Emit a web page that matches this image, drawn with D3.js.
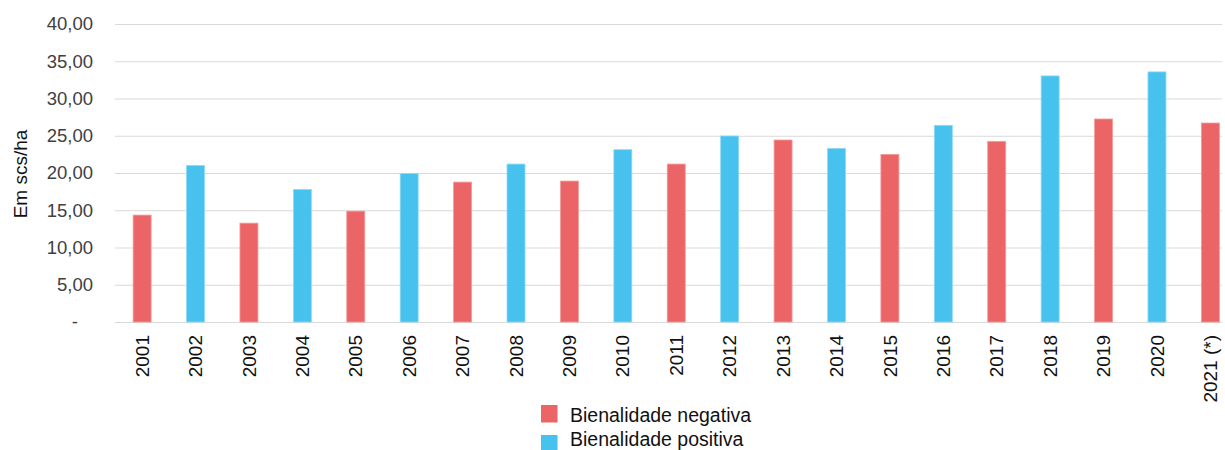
<!DOCTYPE html>
<html lang="pt">
<head>
<meta charset="UTF-8">
<title>Produtividade</title>
<script src="https://d3js.org/d3.v7.min.js"></script>
<style>
  body { margin: 0; background: #fff; }
  text { font-family: "Liberation Sans", Arial, sans-serif; }
</style>
</head>
<body>
<script>
// anos e produtividade (scs/ha)
var years = ["2001","2002","2003","2004","2005","2006","2007","2008","2009","2010",
             "2011","2012","2013","2014","2015","2016","2017","2018","2019","2020","2021 (*)"];
var values = [14.35, 21.02, 13.27, 17.79, 14.88, 19.94, 18.78, 21.20, 18.92, 23.13,
              21.20, 24.97, 24.43, 23.30, 22.50, 26.40, 24.25, 33.03, 27.25, 33.57, 26.71];
// tipo de bienalidade: "neg" ou "pos"
var kinds = ["neg","pos","neg","pos","neg","pos","neg","pos","neg","pos",
             "neg","pos","neg","pos","neg","pos","neg","pos","neg","pos","neg"];
var yTicks = [0, 5, 10, 15, 20, 25, 30, 35, 40];
var legendLabels = ["Bienalidade negativa", "Bienalidade positiva"];

var colors = { neg: "#ec6566", pos: "#47c1ee" };
var strokes = { neg: "#f59a9a", pos: "#8fdaf6" };

var width = 1225, height = 450;
var margin = { top: 24, right: 3, bottom: 128, left: 115 };
var innerW = width - margin.left - margin.right,
    innerH = height - margin.top - margin.bottom;
// a area do grafico continua alem da borda direita da imagem (recortada)
var bandW = 1122;

var svg = d3.select("body").append("svg")
    .attr("width", width).attr("height", height);

var x = d3.scaleBand().domain(years).range([0.5, bandW]).paddingInner(0.663).paddingOuter(0.33);
var y = d3.scaleLinear().domain([0, 40]).range([innerH, 0]);

var g = svg.append("g").attr("transform", "translate(" + margin.left + "," + margin.top + ")");

// linhas de grade
g.selectAll(".grid").data(yTicks).enter().append("line")
    .attr("x1", 0).attr("x2", innerW)
    .attr("y1", d => y(d) + 0.5).attr("y2", d => y(d) + 0.5)
    .attr("stroke", "#d9d9d9").attr("stroke-width", 1.2);

// eixo y
var fmt = d3.format(".2f");
var yAxis = d3.axisLeft(y).tickValues(yTicks).tickSize(0).tickPadding(22)
    .tickFormat(d => d === 0 ? "-" : fmt(d).replace(".", ","));
var ya = g.append("g").call(yAxis);
ya.select(".domain").remove();
ya.selectAll("text").attr("font-size", 18.5).attr("fill", "#404040")
    .attr("font-family", "Liberation Sans, Arial, sans-serif");
ya.selectAll(".tick").filter(d => d === 0).select("text").attr("dx", -15);

// barras
g.selectAll(".bar").data(years).enter().append("rect")
    .attr("x", d => x(d))
    .attr("width", x.bandwidth())
    .attr("y", (d, i) => y(values[i]))
    .attr("height", (d, i) => innerH - y(values[i]))
    .attr("fill", (d, i) => colors[kinds[i]])
    .attr("stroke", (d, i) => strokes[kinds[i]])
    .attr("stroke-width", 0.8);

// eixo x
var xAxis = d3.axisBottom(x).tickSize(0).tickPadding(0);
var xa = g.append("g").attr("transform", "translate(0," + innerH + ")").call(xAxis);
xa.select(".domain").remove();
xa.selectAll("text")
    .attr("font-size", 19).attr("fill", "#111")
    .attr("font-family", "Liberation Sans, Arial, sans-serif")
    .attr("text-anchor", "end")
    .attr("transform", "translate(0,13) rotate(-90)")
    .attr("x", 0).attr("y", 0).attr("dy", "0.35em");

// titulo do eixo y
svg.append("text")
    .attr("transform", "translate(27,174) rotate(-90)")
    .attr("text-anchor", "middle")
    .attr("font-size", 19).attr("fill", "#111")
    .text("Em scs/ha");

// legenda
var leg = svg.append("g");
var legY = [405, 435], legTextY = [422, 446];
["neg", "pos"].forEach(function (k, i) {
    leg.append("rect").attr("x", 541).attr("y", legY[i])
        .attr("width", 16.5).attr("height", 17.5).attr("fill", colors[k]);
    leg.append("text").attr("x", 570).attr("y", legTextY[i])
        .attr("font-size", 19.5).attr("fill", "#111").text(legendLabels[i]);
});
</script>
</body>
</html>
